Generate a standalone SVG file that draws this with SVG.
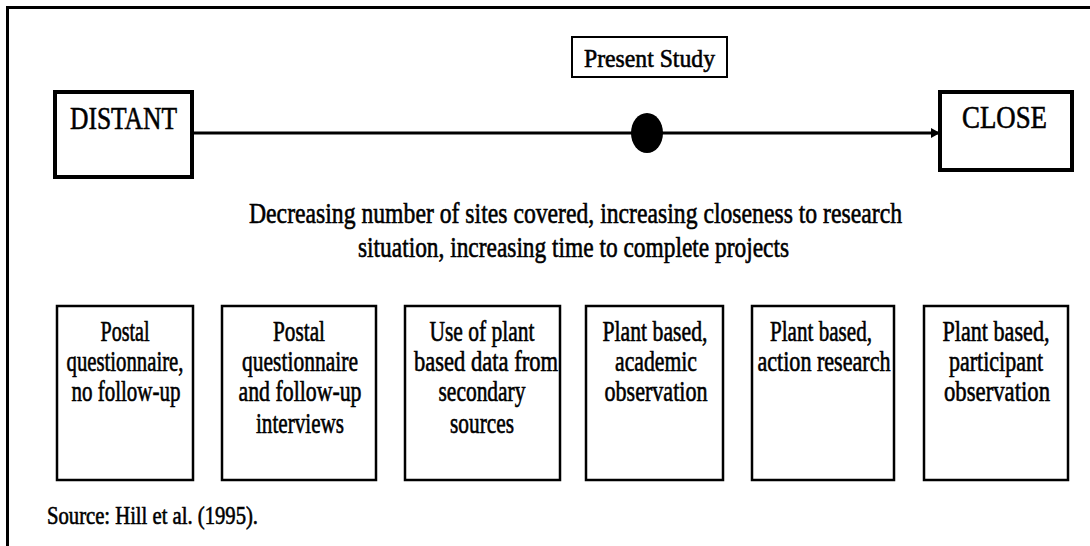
<svg xmlns="http://www.w3.org/2000/svg" width="1090" height="546" viewBox="0 0 1090 546">
  <defs>
    <marker id="arrowHead" markerWidth="10" markerHeight="10" refX="9" refY="5" orient="auto" markerUnits="userSpaceOnUse">
      <path d="M0,0 L9,5 L0,10 Z" fill="#000"/>
    </marker>
    <style>
      text { font-family: "Liberation Serif", "Times New Roman", serif; fill: #000; stroke: #000; stroke-width: 0.6; }
      .end { fill: #fff; stroke: #000; stroke-width: 4; }
      .stage { fill: #fff; stroke: #000; stroke-width: 2.5; }
      .tag { fill: #fff; stroke: #000; stroke-width: 2; }
      .big { font-size: 32px; }
      .mid { font-size: 30px; }
      .box { font-size: 29px; text-anchor: middle; }
      .src { font-size: 25px; }
    </style>
  </defs>

  <rect width="1090" height="546" fill="#fff"/>

  <!-- frame: top and left edges only -->
  <path d="M7.5,546 V7.5 H1090" fill="none" stroke="#000" stroke-width="3"/>

  <!-- axis from distant to close with marker for the present study -->
  <g id="connectors">
    <line x1="192" y1="133" x2="940" y2="133" stroke="#000" stroke-width="3" marker-end="url(#arrowHead)"/>
    <ellipse cx="647" cy="133" rx="16" ry="20" fill="#000"/>
  </g>

  <g id="present-study">
    <rect class="tag" x="572" y="37" width="155" height="40"/>
    <text x="584" y="67" font-size="26" textLength="131" lengthAdjust="spacingAndGlyphs">Present Study</text>
  </g>

  <g id="distant">
    <rect class="end" x="55" y="92" width="137" height="85"/>
    <text class="big" x="70" y="129" textLength="107" lengthAdjust="spacingAndGlyphs">DISTANT</text>
  </g>

  <g id="close">
    <rect class="end" x="940" y="92" width="132" height="78"/>
    <text class="big" x="962" y="128" textLength="85" lengthAdjust="spacingAndGlyphs">CLOSE</text>
  </g>

  <g id="caption">
    <text class="mid" x="249" y="223" textLength="653" lengthAdjust="spacingAndGlyphs">Decreasing number of sites covered, increasing closeness to research</text>
    <text class="mid" x="358" y="257" textLength="431" lengthAdjust="spacingAndGlyphs">situation, increasing time to complete projects</text>
  </g>

  <g id="stage-1">
    <rect class="stage" x="57" y="306" width="136" height="174"/>
    <text class="box" x="125" y="341" textLength="49" lengthAdjust="spacingAndGlyphs">Postal</text>
    <text class="box" x="125" y="371" textLength="117" lengthAdjust="spacingAndGlyphs">questionnaire,</text>
    <text class="box" x="126" y="401" textLength="109" lengthAdjust="spacingAndGlyphs">no follow-up</text>
  </g>

  <g id="stage-2">
    <rect class="stage" x="222" y="306" width="154" height="174"/>
    <text class="box" x="299" y="341" textLength="52" lengthAdjust="spacingAndGlyphs">Postal</text>
    <text class="box" x="300" y="371" textLength="116" lengthAdjust="spacingAndGlyphs">questionnaire</text>
    <text class="box" x="300" y="401" textLength="123" lengthAdjust="spacingAndGlyphs">and follow-up</text>
    <text class="box" x="300" y="433" textLength="88" lengthAdjust="spacingAndGlyphs">interviews</text>
  </g>

  <g id="stage-3">
    <rect class="stage" x="405" y="306" width="155" height="174"/>
    <text class="box" x="482" y="341" textLength="105" lengthAdjust="spacingAndGlyphs">Use of plant</text>
    <text class="box" x="486" y="371" textLength="144" lengthAdjust="spacingAndGlyphs">based  data from</text>
    <text class="box" x="482" y="401" textLength="87" lengthAdjust="spacingAndGlyphs">secondary</text>
    <text class="box" x="482" y="433" textLength="64" lengthAdjust="spacingAndGlyphs">sources</text>
  </g>

  <g id="stage-4">
    <rect class="stage" x="586" y="306" width="137" height="174"/>
    <text class="box" x="655" y="341" textLength="105" lengthAdjust="spacingAndGlyphs">Plant based,</text>
    <text class="box" x="656" y="371" textLength="82" lengthAdjust="spacingAndGlyphs">academic</text>
    <text class="box" x="656" y="401" textLength="103" lengthAdjust="spacingAndGlyphs">observation</text>
  </g>

  <g id="stage-5">
    <rect class="stage" x="752" y="306" width="142" height="174"/>
    <text class="box" x="821" y="341" textLength="102" lengthAdjust="spacingAndGlyphs">Plant based,</text>
    <text class="box" x="824" y="371" textLength="133" lengthAdjust="spacingAndGlyphs">action research</text>
  </g>

  <g id="stage-6">
    <rect class="stage" x="924" y="306" width="144" height="174"/>
    <text class="box" x="996" y="341" textLength="107" lengthAdjust="spacingAndGlyphs">Plant based,</text>
    <text class="box" x="996" y="371" textLength="94" lengthAdjust="spacingAndGlyphs">participant</text>
    <text class="box" x="997" y="401" textLength="106" lengthAdjust="spacingAndGlyphs">observation</text>
  </g>

  <g id="source">
    <text class="src" x="47" y="524" textLength="211" lengthAdjust="spacingAndGlyphs">Source: Hill et al. (1995).</text>
  </g>
</svg>
